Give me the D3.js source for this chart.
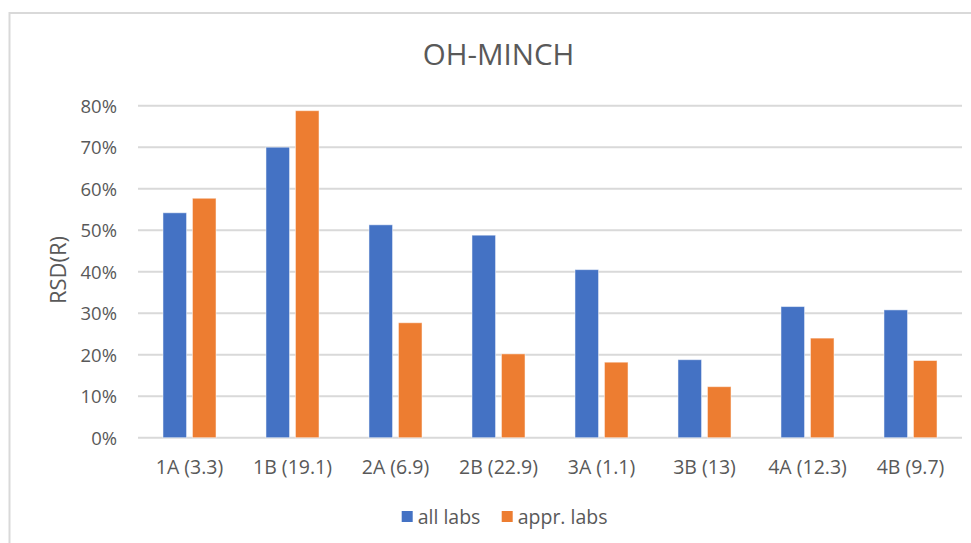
<!DOCTYPE html>
<html>
<head>
<meta charset="utf-8">
<script src="https://cdn.jsdelivr.net/npm/d3@7"></script>
<style>
  html, body { margin: 0; padding: 0; background: #fff; }
  svg { display: block; font-family: "Open Sans", "Noto Sans", sans-serif; }
</style>
</head>
<body>
<svg id="chart" width="971" height="543"></svg>
<script>
const categories = ["1A (3.3)", "1B (19.1)", "2A (6.9)", "2B (22.9)", "3A (1.1)", "3B (13)", "4A (12.3)", "4B (9.7)"];
const seriesNames = ["all labs", "appr. labs"];
const allLabs = [0.542, 0.700, 0.513, 0.488, 0.405, 0.188, 0.316, 0.308];
const apprLabs = [0.577, 0.788, 0.277, 0.202, 0.182, 0.123, 0.240, 0.186];
const yTicks = [0, 0.1, 0.2, 0.3, 0.4, 0.5, 0.6, 0.7, 0.8];
const colors = ["#4472C4", "#ED7D31"];
const title = "OH-MINCH";
const yTitle = "RSD(R)";

const svg = d3.select("#chart");
const textColor = "#595959";

// chart border
svg.append("rect")
  .attr("x", 9.5).attr("y", 13)
  .attr("width", 1000).attr("height", 600)
  .attr("fill", "none").attr("stroke", "#d9d9d9").attr("stroke-width", 2);

const plotLeft = 138, plotRight = 962, plotTop = 105.7, plotBottom = 437.7;

const x0 = d3.scaleBand().domain(categories).range([plotLeft, plotRight])
  .paddingInner(0.485).paddingOuter(0.2425);
const x1 = d3.scaleBand().domain(seriesNames).range([0, x0.bandwidth()])
  .paddingInner(0.2).paddingOuter(0);
const y = d3.scaleLinear().domain([0, 0.8]).range([plotBottom, plotTop]);

// gridlines
svg.append("g").selectAll("line").data(yTicks).join("line")
  .attr("x1", plotLeft).attr("x2", plotRight)
  .attr("y1", d => y(d)).attr("y2", d => y(d))
  .attr("stroke", "#d9d9d9").attr("stroke-width", 2);

// y axis labels via d3 axis
const yAxis = d3.axisLeft(y).tickValues(yTicks).tickFormat(d3.format(".0%")).tickSize(0).tickPadding(0);
const gy = svg.append("g").attr("transform", `translate(${117},0)`).call(yAxis);
gy.select(".domain").remove();
gy.selectAll("text").attr("fill", textColor).style("font-size", "18.5px")
  .style("font-family", "'Open Sans', sans-serif").attr("dy", "0.36em");

// x axis labels
const xAxis = d3.axisBottom(x0).tickSize(0).tickPadding(0);
const gx = svg.append("g").attr("transform", `translate(0,${plotBottom})`).call(xAxis);
gx.select(".domain").remove();
gx.selectAll("text").attr("fill", textColor).style("font-size", "19.5px")
  .style("font-family", "'Open Sans', sans-serif").attr("y", 36).attr("dy", 0);

// bars
const data = categories.map((c, i) => ({ cat: c, vals: [allLabs[i], apprLabs[i]] }));
const groups = svg.append("g").selectAll("g").data(data).join("g")
  .attr("transform", d => `translate(${x0(d.cat)},0)`);
groups.selectAll("rect").data(d => d.vals.map((v, j) => ({ s: seriesNames[j], v, j })))
  .join("rect")
  .attr("x", d => x1(d.s))
  .attr("y", d => y(d.v))
  .attr("width", x1.bandwidth())
  .attr("height", d => y(0) - y(d.v))
  .attr("fill", d => colors[d.j])
  .attr("stroke", "#ffffff").attr("stroke-opacity", 0.5).attr("stroke-width", 1);

// title
svg.append("text").attr("x", 498.5).attr("y", 65)
  .attr("text-anchor", "middle").attr("fill", textColor)
  .style("font-size", "29.5px").text(title);

// y title
svg.append("text")
  .attr("transform", `translate(66,270) rotate(-90)`)
  .attr("text-anchor", "middle").attr("fill", textColor)
  .style("font-size", "22px").text(yTitle);

// legend
const legendItems = [{ name: seriesNames[0], x: 401.7 }, { name: seriesNames[1], x: 501.7 }];
const lg = svg.append("g");
legendItems.forEach((it, j) => {
  lg.append("rect").attr("x", it.x).attr("y", 511).attr("width", 11).attr("height", 11)
    .attr("fill", colors[j]);
  lg.append("text").attr("x", it.x + 16).attr("y", 523.5).attr("fill", textColor)
    .style("font-size", "19.5px").text(it.name);
});
</script>
</body>
</html>
